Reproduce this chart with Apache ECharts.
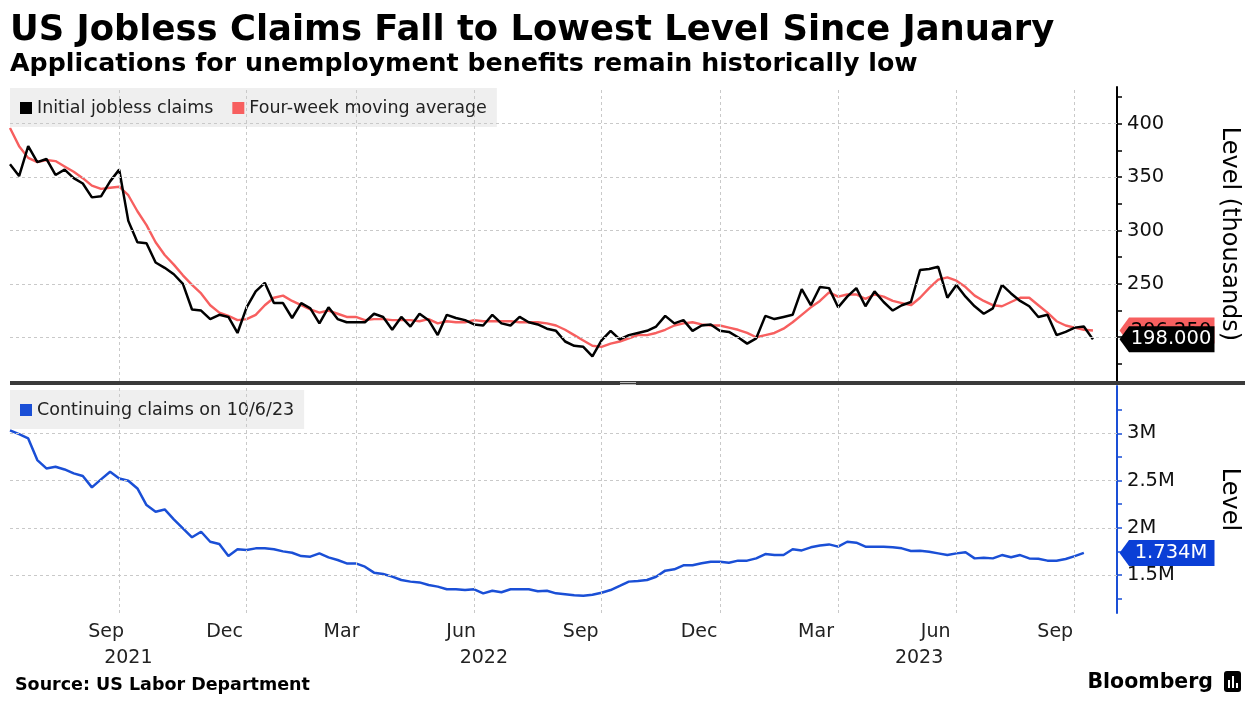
<!DOCTYPE html>
<html><head><meta charset="utf-8">
<script src="https://cdn.jsdelivr.net/npm/echarts@6/dist/echarts.min.js"></script>
<style>html,body{margin:0;padding:0;background:#fff}#c{width:1254px;height:728px}</style>
</head><body><div id="c"></div>
<script>
const dates = [
'2021-07-03','2021-07-10','2021-07-17','2021-07-24','2021-07-31','2021-08-07','2021-08-14','2021-08-21','2021-08-28','2021-09-04',
'2021-09-11','2021-09-18','2021-09-25','2021-10-02','2021-10-09','2021-10-16','2021-10-23','2021-10-30','2021-11-06','2021-11-13',
'2021-11-20','2021-11-27','2021-12-04','2021-12-11','2021-12-18','2021-12-25','2022-01-01','2022-01-08','2022-01-15','2022-01-22',
'2022-01-29','2022-02-05','2022-02-12','2022-02-19','2022-02-26','2022-03-05','2022-03-12','2022-03-19','2022-03-26','2022-04-02',
'2022-04-09','2022-04-16','2022-04-23','2022-04-30','2022-05-07','2022-05-14','2022-05-21','2022-05-28','2022-06-04','2022-06-11',
'2022-06-18','2022-06-25','2022-07-02','2022-07-09','2022-07-16','2022-07-23','2022-07-30','2022-08-06','2022-08-13','2022-08-20',
'2022-08-27','2022-09-03','2022-09-10','2022-09-17','2022-09-24','2022-10-01','2022-10-08','2022-10-15','2022-10-22','2022-10-29',
'2022-11-05','2022-11-12','2022-11-19','2022-11-26','2022-12-03','2022-12-10','2022-12-17','2022-12-24','2022-12-31','2023-01-07',
'2023-01-14','2023-01-21','2023-01-28','2023-02-04','2023-02-11','2023-02-18','2023-02-25','2023-03-04','2023-03-11','2023-03-18',
'2023-03-25','2023-04-01','2023-04-08','2023-04-15','2023-04-22','2023-04-29','2023-05-06','2023-05-13','2023-05-20','2023-05-27',
'2023-06-03','2023-06-10','2023-06-17','2023-06-24','2023-07-01','2023-07-08','2023-07-15','2023-07-22','2023-07-29','2023-08-05',
'2023-08-12','2023-08-19','2023-08-26','2023-09-02','2023-09-09','2023-09-16','2023-09-23','2023-09-30','2023-10-07','2023-10-14'];

// thousands
const initialClaims = [
362,351,379,364,367,352,357,349,344,331, 332,346,357,309,289,288,270,265,259,250,
226,225,217,221,219,204,228,243,251,232, 232,218,232,227,213,228,217,214,214,214,
222,219,207,219,210,222,216,202,221,218, 216,212,211,221,213,211,219,214,212,208,
206,196,192,191,182,197,206,198,202,204, 206,210,220,213,216,206,211,212,206,205,
200,194,199,220,217,219,221,245,230,247, 246,228,238,246,229,243,233,225,230,233,
263,264,266,237,249,238,229,222,227,249, 241,234,229,219,221,202,205,209,210,198];

const movingAverage = [
396,379,368,364,366,365,360,355,349,342, 339,340,341,333,318,305,289,277,268,258,
249,241,230,223,220,216,217,221,230,237, 239,234,230,226,223,225,222,219,219,216,
217,217,216,216,216,215,217,213,215,214, 214,216,215,215,215,215,214,214,214,213,
211,207,202,197,192,191,194,196,199,202, 202,204,207,211,213,214,212,211,211,209,
207,204,200,202,204,208,214,221,228,234, 242,238,240,240,236,240,238,234,232,230,
237,246,254,256,253,247,239,234,230,229, 233,237,237,230,223,215,211,209,207,206.25];

// millions (ends one week earlier, 2023-10-07)
const continuingClaims = [
3.03,2.99,2.945,2.716,2.628,2.645,2.617,2.575,2.547,2.427,
2.512,2.592,2.522,2.497,2.416,2.24,2.169,2.194,2.089,1.994,
1.899,1.958,1.852,1.828,1.701,1.772,1.764,1.782,1.782,1.772,
1.75,1.736,1.70,1.694,1.729,1.687,1.659,1.623,1.623,1.588,
1.525,1.511,1.483,1.447,1.43,1.422,1.394,1.377,1.349,1.349,
1.341,1.349,1.306,1.334,1.317,1.349,1.349,1.349,1.328,1.334,
1.306,1.296,1.285,1.281,1.292,1.313,1.341,1.384,1.43,1.437,
1.447,1.482,1.546,1.56,1.603,1.603,1.624,1.641,1.641,1.63,
1.652,1.652,1.676,1.722,1.711,1.711,1.772,1.76,1.793,1.812,
1.824,1.80,1.852,1.842,1.80,1.80,1.80,1.793,1.782,1.754,
1.757,1.746,1.729,1.711,1.729,1.74,1.676,1.683,1.676,1.711,
1.687,1.711,1.676,1.672,1.652,1.652,1.669,1.70,1.734];

const monthLabelDates = ['2021-09-15','2021-12-15','2022-03-15','2022-06-15','2022-09-15','2022-12-15','2023-03-15','2023-06-15','2023-09-15'];
const monthNames = ['Jan','Feb','Mar','Apr','May','Jun','Jul','Aug','Sep','Oct','Nov','Dec'];
const quarterGridDates = ['2021-09-25','2022-01-01','2022-03-26','2022-06-25','2022-10-01','2022-12-31','2023-04-01','2023-07-01','2023-09-30'];
const years = [2021, 2022, 2023];
const topTickLabels = [200,250,300,350,400];
const topTicks = [175,200,225,250,275,300,325,350,375,400,425];
const bottomTickLabels = [1.5,2,2.5,3];
const bottomTicks = [1.25,1.5,1.75,2,2.25,2.5,2.75,3,3.25];
const xMinDate = '2021-07-03', xMaxDate = '2023-11-01';

const FONT = 'DejaVu Sans';
const ts = s => Date.parse(s + 'T00:00:00Z');
const xMin = ts(xMinDate), xMax = ts(xMaxDate) + 12*3600*1000;
const yearCenters = years.map(y => {
  const a = Math.max(Date.UTC(y,0,1), xMin), b = Math.min(Date.UTC(y+1,0,1), xMax);
  return (a + b) / 2;
});

const BLACK = '#000000', RED = '#f75f5f', BLUE = '#1a4fd6', BLUEBOX = '#0b3fd6';
const boxPath = 'path://M0,13L10,0L100,0L100,26L10,26Z';
function valueBox(x, y, text, fill, txtColor){
  return {
    symbol: boxPath, symbolSize: [95, 26], symbolOffset: [50, 0], silent: true, animation: false,
    itemStyle: {color: fill},
    label: {show: true, position: 'inside', offset: [4, 0], color: txtColor, fontSize: 19.5, fontFamily: FONT, formatter: () => text},
    data: [{coord: [x, y]}]
  };
}
const gridLineStyle = {color: '#c9c9c9', type: [3, 3], width: 1};

const chart = echarts.init(document.getElementById('c'));
const lastInit = initialClaims[initialClaims.length-1];
const lastAvg = movingAverage[movingAverage.length-1];
const lastCont = continuingClaims[continuingClaims.length-1];

const xBase = {type: 'value', min: xMin, max: xMax, scale: true, position: 'bottom',
  axisLine: {show: false}, axisTick: {show: false}, splitLine: {show: false}};

chart.setOption({
  animation: false,
  backgroundColor: '#ffffff',
  title: [
    {text: 'US Jobless Claims Fall to Lowest Level Since January', left: 10, top: 13, padding: 0,
     textStyle: {fontFamily: FONT, fontSize: 35.4, fontWeight: 'bold', color: '#000'}},
    {text: 'Applications for unemployment benefits remain historically low', left: 10, top: 52, padding: 0,
     textStyle: {fontFamily: FONT, fontSize: 25.3, fontWeight: 'bold', color: '#000'}},
    {text: 'Source: US Labor Department', left: 15, top: 676, padding: 0,
     textStyle: {fontFamily: FONT, fontSize: 17.5, fontWeight: 'bold', color: '#000'}},
    {text: 'Bloomberg', right: 41, top: 672, padding: 0,
     textStyle: {fontFamily: FONT, fontSize: 20.5, fontWeight: 'bold', color: '#000'}}
  ],
  legend: [
    {left: 10, top: 88, data: ['Initial jobless claims', 'Four-week moving average'],
     backgroundColor: '#efefef', padding: [11, 10, 10, 10], itemWidth: 12, itemHeight: 12, itemGap: 19,
     icon: 'rect', selectedMode: false, textStyle: {fontFamily: FONT, fontSize: 17.5, color: '#222'}},
    {left: 10, top: 390, data: ['Continuing claims on 10/6/23'],
     backgroundColor: '#efefef', padding: [11, 10, 10, 10], itemWidth: 12, itemHeight: 12,
     icon: 'rect', selectedMode: false, textStyle: {fontFamily: FONT, fontSize: 17.5, color: '#222'}}
  ],
  grid: [
    {left: 10, right: 137, top: 87, height: 294},
    {left: 10, right: 137, top: 386, height: 227}
  ],
  xAxis: [
    Object.assign({}, xBase, {gridIndex: 0, axisLabel: {show: false}}),
    Object.assign({}, xBase, {gridIndex: 1,
     axisLabel: {customValues: monthLabelDates.map(ts), margin: 10, fontFamily: FONT, fontSize: 19, color: '#222',
       formatter: v => monthNames[new Date(v).getUTCMonth()]}}),
    Object.assign({}, xBase, {gridIndex: 1, offset: 26,
     axisLabel: {customValues: yearCenters, margin: 10, fontFamily: FONT, fontSize: 19, color: '#222',
       formatter: v => String(new Date(v).getUTCFullYear())}})
  ],
  yAxis: [
    {type: 'value', gridIndex: 0, position: 'right', min: 159, max: 434.4,
     name: 'Level (thousands)', nameLocation: 'middle', nameRotate: -90, nameGap: 100,
     nameTextStyle: {fontFamily: FONT, fontSize: 24, color: '#000'},
     axisLine: {show: true, lineStyle: {color: '#000', width: 2}},
     axisTick: {show: true, customValues: topTicks, length: 5, lineStyle: {color: '#000', width: 1.5}},
     axisLabel: {customValues: topTickLabels, margin: 10, fontFamily: FONT, fontSize: 19.5, color: '#111'},
     splitLine: {show: false}},
    {type: 'value', gridIndex: 1, position: 'right', min: 1.098, max: 3.5,
     name: 'Level', nameLocation: 'middle', nameRotate: -90, nameGap: 100,
     nameTextStyle: {fontFamily: FONT, fontSize: 24, color: '#000'},
     axisLine: {show: true, lineStyle: {color: BLUE, width: 2}},
     axisTick: {show: true, customValues: bottomTicks, length: 5, lineStyle: {color: BLUE, width: 1.5}},
     axisLabel: {customValues: bottomTickLabels, margin: 10, fontFamily: FONT, fontSize: 19.5, color: '#111',
       formatter: v => v + 'M'},
     splitLine: {show: false}}
  ],
  series: [
    {type: 'line', xAxisIndex: 0, yAxisIndex: 0, data: [], z: 1, silent: true,
     markLine: {silent: true, symbol: ['none','none'], label: {show: false}, lineStyle: gridLineStyle, animation: false,
       data: topTickLabels.map(v => ({yAxis: v})).concat(quarterGridDates.map(d => ({xAxis: ts(d)})))}},
    {type: 'line', xAxisIndex: 1, yAxisIndex: 1, data: [], z: 1, silent: true,
     markLine: {silent: true, symbol: ['none','none'], label: {show: false}, lineStyle: gridLineStyle, animation: false,
       data: bottomTickLabels.map(v => ({yAxis: v})).concat(quarterGridDates.map(d => ({xAxis: ts(d)})))}},
    {name: 'Four-week moving average', type: 'line', xAxisIndex: 0, yAxisIndex: 0, z: 3,
     data: dates.map((d, i) => [ts(d), movingAverage[i]]), showSymbol: false,
     lineStyle: {color: RED, width: 2.4}, itemStyle: {color: RED},
     markPoint: valueBox(xMax, lastAvg, lastAvg.toFixed(3), RED, '#000')},
    {name: 'Initial jobless claims', type: 'line', xAxisIndex: 0, yAxisIndex: 0, z: 4,
     data: dates.map((d, i) => [ts(d), initialClaims[i]]), showSymbol: false,
     lineStyle: {color: BLACK, width: 2.5}, itemStyle: {color: BLACK},
     markPoint: valueBox(xMax, lastInit, lastInit.toFixed(3), BLACK, '#fff')},
    {name: 'Continuing claims on 10/6/23', type: 'line', xAxisIndex: 1, yAxisIndex: 1, z: 4,
     data: continuingClaims.map((v, i) => [ts(dates[i]), v]), showSymbol: false,
     lineStyle: {color: BLUE, width: 2.5}, itemStyle: {color: BLUE},
     markPoint: valueBox(xMax, lastCont, lastCont.toFixed(3) + 'M', BLUEBOX, '#fff')}
  ],
  graphic: [
    {type: 'rect', shape: {x: 10, y: 381, width: 1235, height: 4}, style: {fill: '#3a3a3a'}, z: 10},
    {type: 'rect', shape: {x: 620, y: 382, width: 16, height: 1}, style: {fill: '#bbbbbb'}, z: 11},
    {type: 'rect', shape: {x: 620, y: 384, width: 16, height: 1}, style: {fill: '#bbbbbb'}, z: 11},
    {type: 'rect', shape: {x: 1224, y: 671, width: 17, height: 21, r: 3}, style: {fill: '#000'}, z: 10},
    {type: 'rect', shape: {x: 1228, y: 680, width: 2, height: 8}, style: {fill: '#fff'}, z: 11},
    {type: 'rect', shape: {x: 1232, y: 676, width: 2, height: 12}, style: {fill: '#fff'}, z: 11},
    {type: 'rect', shape: {x: 1236, y: 683, width: 2, height: 5}, style: {fill: '#fff'}, z: 11}
  ]
});
</script>
</body></html>
